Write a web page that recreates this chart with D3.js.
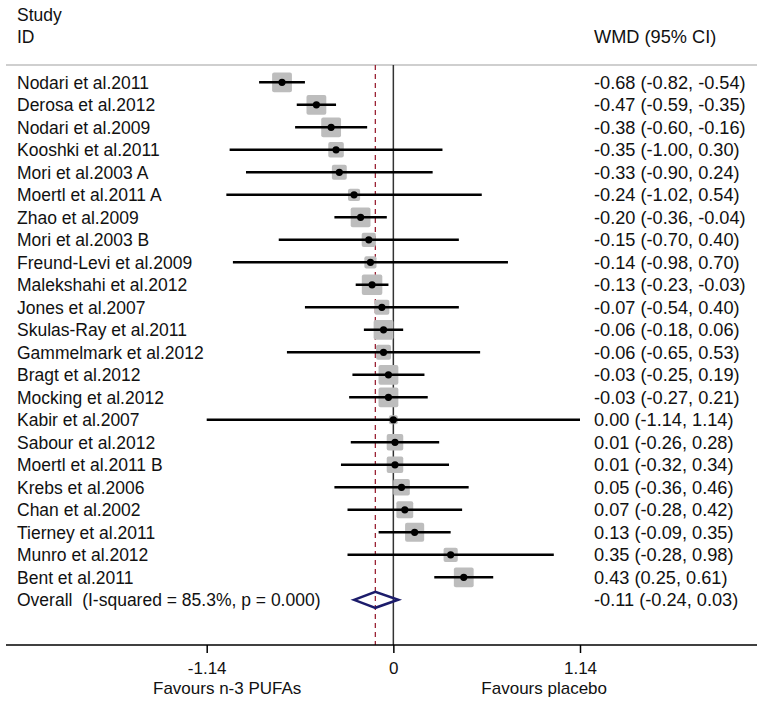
<!DOCTYPE html>
<html>
<head>
<meta charset="utf-8">
<script src="https://cdn.jsdelivr.net/npm/d3@7"></script>
<style>
  html, body { margin: 0; padding: 0; background: #fff; }
  svg { display: block; }
  text { font-family: Arial, "Liberation Sans", sans-serif; fill: #111; white-space: pre; }
</style>
</head>
<body>
<svg id="chart" width="763" height="706"></svg>
<script>
// ---- data ----
const studies = [
  "Nodari et al.2011", "Derosa et al.2012", "Nodari et al.2009", "Kooshki et al.2011",
  "Mori et al.2003 A", "Moertl et al.2011 A", "Zhao et al.2009", "Mori et al.2003 B",
  "Freund-Levi et al.2009", "Malekshahi et al.2012", "Jones et al.2007", "Skulas-Ray et al.2011",
  "Gammelmark et al.2012", "Bragt et al.2012", "Mocking et al.2012", "Kabir et al.2007",
  "Sabour et al.2012", "Moertl et al.2011 B", "Krebs et al.2006", "Chan et al.2002",
  "Tierney et al.2011", "Munro et al.2012", "Bent et al.2011"
];
const wmd   = [-0.68, -0.47, -0.38, -0.35, -0.33, -0.24, -0.20, -0.15, -0.14, -0.13, -0.07, -0.06, -0.06, -0.03, -0.03, 0.00, 0.01, 0.01, 0.05, 0.07, 0.13, 0.35, 0.43];
const lower = [-0.82, -0.59, -0.60, -1.00, -0.90, -1.02, -0.36, -0.70, -0.98, -0.23, -0.54, -0.18, -0.65, -0.25, -0.27, -1.14, -0.26, -0.32, -0.36, -0.28, -0.09, -0.28, 0.25];
const upper = [-0.54, -0.35, -0.16, 0.30, 0.24, 0.54, -0.04, 0.40, 0.70, -0.03, 0.40, 0.06, 0.53, 0.19, 0.21, 1.14, 0.28, 0.34, 0.46, 0.42, 0.35, 0.98, 0.61];
// study weights (%)
const weights = [5.85, 5.85, 5.85, 3.6, 3.3, 2.2, 5.85, 3.0, 2.2, 6.26, 3.3, 5.85, 3.3, 5.85, 5.85, 1.18, 4.08, 4.08, 4.08, 4.23, 5.44, 3.0, 5.85];
const overallLabel = "Overall  (I-squared = 85.3%, p = 0.000)";
const overall = { est: -0.11, lo: -0.24, hi: 0.03 };
const tickValues = [-1.14, 0, 1.14];
const tickLabels = ["-1.14", "0", "1.14"];
const headerLeft = ["Study", "ID"];
const headerRight = "WMD (95% CI)";
const favourLeft = "Favours n-3 PUFAs";
const favourRight = "Favours placebo";

// ---- layout ----
const svg = d3.select("#chart");
const FS = 17.5, FSR = 18.2;
const rowsAll = studies.concat([overallLabel]);
const x = d3.scaleLinear().domain([-1.14, 1.14]).range([206.7, 580]);
const y = d3.scalePoint().domain(rowsAll).range([82.3, 599.8]);
const size = d3.scaleSqrt().domain([0, d3.max(weights)]).range([0, 20.5]);
const fmt = v => v.toFixed(2);
const ciText = (e, l, u) => `${fmt(e)} (${fmt(l)}, ${fmt(u)})`;
const topY = 65, axisY = 645;

// header
svg.append("text").attr("x", 17).attr("y", 21).attr("font-size", FS).text(headerLeft[0]);
svg.append("text").attr("x", 17).attr("y", 43).attr("font-size", FS).text(headerLeft[1]);
svg.append("text").attr("x", 594).attr("y", 43).attr("font-size", FSR).text(headerRight);
svg.append("line").attr("x1", 6).attr("x2", 757).attr("y1", topY).attr("y2", topY)
  .attr("stroke", "#cfcfcf").attr("stroke-width", 2);

// reference lines
svg.append("line").attr("x1", x(0)).attr("x2", x(0)).attr("y1", topY).attr("y2", axisY)
  .attr("stroke", "#333").attr("stroke-width", 1.5);
svg.append("line").attr("x1", x(overall.est)).attr("x2", x(overall.est)).attr("y1", topY).attr("y2", axisY)
  .attr("stroke", "#9b2335").attr("stroke-width", 1.3).attr("stroke-dasharray", "5,4");

// studies
const data = studies.map((s, i) => ({ s, e: wmd[i], l: lower[i], u: upper[i], w: weights[i] }));
const g = svg.append("g");
g.selectAll("rect.box").data(data).join("rect")
  .attr("class", "box")
  .attr("x", d => x(d.e) - size(d.w) / 2)
  .attr("y", d => y(d.s) - size(d.w) / 2)
  .attr("width", d => size(d.w)).attr("height", d => size(d.w))
  .attr("rx", 2).attr("fill", "#bdbdbd");
g.selectAll("line.ci").data(data).join("line")
  .attr("class", "ci")
  .attr("x1", d => x(d.l)).attr("x2", d => x(d.u))
  .attr("y1", d => y(d.s)).attr("y2", d => y(d.s))
  .attr("stroke", "#000").attr("stroke-width", 2.5);
g.selectAll("circle.pt").data(data).join("circle")
  .attr("class", "pt")
  .attr("cx", d => x(d.e)).attr("cy", d => y(d.s)).attr("r", 3.6).attr("fill", "#000");

// labels
svg.selectAll("text.lab").data(rowsAll).join("text").attr("class", "lab")
  .attr("x", 17).attr("y", d => y(d) + FS * 0.36).attr("font-size", FS).text(d => d);
const rightTexts = data.map(d => ciText(d.e, d.l, d.u)).concat([ciText(overall.est, overall.lo, overall.hi)]);
svg.selectAll("text.ci").data(rightTexts).join("text").attr("class", "ci")
  .attr("x", 594).attr("y", (d, i) => y(rowsAll[i]) + FSR * 0.36).attr("font-size", FSR).text(d => d);

// overall diamond
const oy = y(overallLabel);
svg.append("path")
  .attr("d", `M${x(overall.lo)},${oy} L${x(overall.est)},${oy - 8} L${x(overall.hi)},${oy} L${x(overall.est)},${oy + 8} Z`)
  .attr("fill", "none").attr("stroke", "#1c1c6b").attr("stroke-width", 2.5).attr("stroke-linejoin", "miter");

// axis
svg.append("line").attr("x1", 6).attr("x2", 757).attr("y1", axisY).attr("y2", axisY)
  .attr("stroke", "#000").attr("stroke-width", 1.5);
const axis = d3.axisBottom(x).tickValues(tickValues)
  .tickFormat((d, i) => tickLabels[i]).tickSize(8).tickPadding(9).tickSizeOuter(0);
const ag = svg.append("g").attr("transform", `translate(0,${axisY})`).call(axis);
ag.select(".domain").remove();
ag.selectAll(".tick line").attr("stroke", "#000").attr("stroke-width", 1.5);
ag.selectAll(".tick text").attr("font-size", 17).attr("font-family", "Arial, 'Liberation Sans', sans-serif")
  .attr("fill", "#111");
svg.append("text").attr("x", x(0) - 92).attr("y", 694).attr("font-size", 17)
  .attr("text-anchor", "end").text(favourLeft);
svg.append("text").attr("x", x(0) + 88).attr("y", 694).attr("font-size", 17)
  .attr("text-anchor", "start").text(favourRight);
</script>
</body>
</html>
